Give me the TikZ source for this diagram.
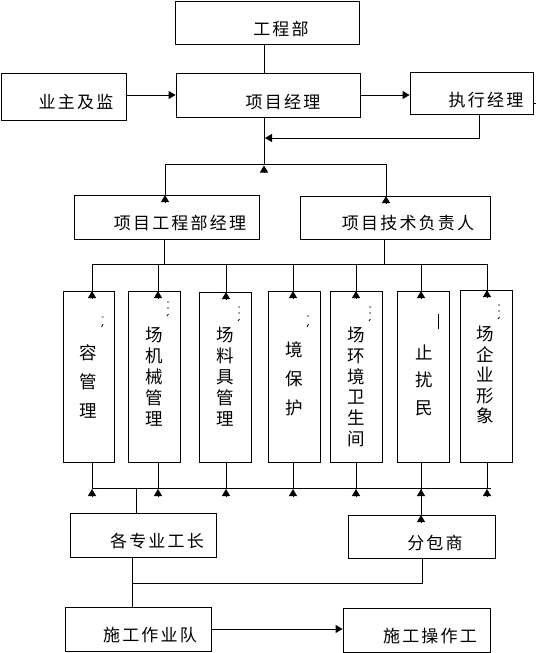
\documentclass[tikz,border=0pt]{standalone}
\usepackage{fontspec}
\setmainfont{Noto Sans CJK SC}
\usetikzlibrary{arrows.meta}
\def\cjs#1{\cjsi#1\relax}
\def\cjsi#1{\ifx\relax#1\else\kern1.1pt#1\kern1.1pt\expandafter\cjsi\fi}
\newcommand\mkbox[5]{\node[box, minimum width={(#4-#2)*1pt}, minimum height={(#5-#3)*1pt}] (#1) at ({(#2+#4)/2},{(#3+#5)/2}) {};}
\tikzset{
  box/.style={draw, line width=0.9pt, inner sep=0pt},
  txt/.style={inner sep=0pt, font=\fontsize{17}{19}\selectfont},
  vtxt/.style={inner sep=0pt, align=center, font=\fontsize{17.5}{#1}\selectfont},
  conn/.style={line width=0.9pt},
  arr/.style={line width=0.9pt, -{Triangle[width=8pt,length=7pt]}},
  tri/.style={line width=0.9pt, -{Triangle[width=8pt,length=7pt]}},
  frag/.style={line width=0.8pt}
}
\begin{document}
\begin{tikzpicture}[x=1pt,y=-1pt]
\useasboundingbox (0,0) rectangle (536,653);
% boxes
\mkbox{gcb}{175}{1}{359}{44}
\mkbox{yz}{1}{73}{126}{120}
\mkbox{xm}{176}{73}{360}{117}
\mkbox{zx}{410}{72}{533}{114}
\mkbox{pe}{74}{195}{259}{239}
\mkbox{pt}{300}{196}{490}{239}
\mkbox{c1}{63}{291}{114}{462}
\mkbox{c2}{128}{291}{180}{462}
\mkbox{c3}{199}{292}{251}{462}
\mkbox{c4}{268}{291}{320}{462}
\mkbox{c5}{330}{291}{382}{462}
\mkbox{c6}{397}{291}{449}{462}
\mkbox{c7}{460}{290}{512}{462}
\mkbox{gz}{70}{513}{216}{557}
\mkbox{fb}{348}{515}{495}{558}
\mkbox{sd}{65}{607}{211}{651}
\mkbox{sc}{343}{608}{490}{652}
% texts
\node[txt] (gcbT) at (281,29) {\cjs{工程部}};
\node[txt] (yzT) at (76,102) {\cjs{业主及监}};
\node[txt] (xmT) at (283,102) {\cjs{项目经理}};
\node[txt] (zxT) at (486,100) {\cjs{执行经理}};
\node[txt] (peT) at (180,223) {\cjs{项目工程部经理}};
\node[txt] (ptT) at (408,223) {\cjs{项目技术负责人}};
\node[txt] (gzT) at (157,541) {\cjs{各专业工长}};
\node[txt] (fbT) at (435,543) {\cjs{分包商}};
\node[txt] (sdT) at (150,635) {\cjs{施工作业队}};
\node[txt] (scT) at (430,636) {\cjs{施工操作工}};
\node[vtxt=29] (c1T) at (88,381) {容\\管\\理};
\node[vtxt=21] (c2T) at (154,377) {场\\机\\械\\管\\理};
\node[vtxt=21] (c3T) at (225,377) {场\\料\\具\\管\\理};
\node[vtxt=29] (c4T) at (294,379) {境\\保\\护};
\node[vtxt=20.8] (c5T) at (356,387) {场\\环\\境\\卫\\生\\间};
\node[vtxt=27.5] (c6T) at (424,380) {止\\扰\\民};
\node[vtxt=20.5] (c7T) at (485,375) {场\\企\\业\\形\\象};
% fragments of clipped glyphs
\draw[frag] (101.5,317) -- (103.5,317) (103,324) -- (101.5,327);
\foreach \fx/\fy in {168/302, 239/307, 370/307, 499/305}{
  \draw[frag] (\fx-1,\fy) -- (\fx+1,\fy) (\fx-1,\fy+6) -- (\fx+1,\fy+6) (\fx+0.5,\fy+12) -- (\fx-1,\fy+14);
}
\draw[frag] (307,316) -- (309,316) (308.5,324) -- (307,327);
\draw[frag] (438,314) -- (438,329);
% coordinates
\coordinate (j0) at (264,164);
\coordinate (j0L) at (165,164);
\coordinate (j0R) at (386,164);
\coordinate (m138) at (265,138);
\coordinate (zxd) at (479,138);
\coordinate (stub) at (536,103);
\coordinate (b1L) at (164,264);
\coordinate (b1R) at (384,264);
\coordinate (u0) at (136,488);
\coordinate (uE) at (491,488);
\coordinate (k1) at (132,583);
\coordinate (k2) at (422,583);
% top connectors
\draw[conn] (gcb.south -| j0) -- (xm.north -| j0);
\draw[arr] (yz.east |- xm.west) -- (xm.west);
\draw[arr] (xm.east) -- (xm.east -| zx.west);
\draw[conn] (stub -| zx.east) -- (stub);
\draw[arr] (zx.south -| zxd) -- (zxd) -- (m138);
\draw[conn] (xm.south -| j0) -- (j0);
\draw[tri] ([yshift=-9pt]j0) -- ([yshift=-1.5pt]j0);
\draw[conn] (j0L) -- (j0R);
\draw[conn] (j0L) -- (j0L |- pe.north);
\draw[conn] (j0R) -- (j0R |- pt.north);
\path (j0L |- pe.north) coordinate (peN) (j0R |- pt.north) coordinate (ptN);
\draw[tri] ([yshift=-8pt]peN) -- ([yshift=-0.5pt]peN);
\draw[tri] ([yshift=-8pt]ptN) -- ([yshift=-0.5pt]ptN);
\draw[conn] (pe.south -| b1L) -- (b1L);
\draw[conn] (pt.south -| b1R) -- (b1R);
% column buses
\foreach \i/\cx in {1/92,2/158,3/226,4/293,5/356,6/421,7/487}{
  \coordinate (t\i) at (\cx,264);
  \coordinate (u\i) at (\cx,488);
}
\draw[conn] (t1) -- (t7);
\draw[conn] (u1) -- (uE);
\foreach \i in {1,...,7}{
  \path (c\i.north -| t\i) coordinate (n\i) (c\i.south -| t\i) coordinate (s\i);
  \draw[conn] (t\i) -- (n\i);
  \draw[tri] ([yshift=-8pt]n\i) -- ([yshift=-0.5pt]n\i);
  \draw[conn] (s\i) -- (u\i);
  \draw[tri] ([yshift=-9pt]u\i) -- ([yshift=-1pt]u\i);
}
% lower connectors
\draw[conn] (gz.north -| u0) -- (u0);
\draw[conn] (u6) -- (fb.north -| u6);
\path (fb.north -| u6) coordinate (fbN);
\draw[tri] ([yshift=-8pt]fbN) -- ([yshift=-0.5pt]fbN);
\draw[conn] (gz.south -| k1) -- (sd.north -| k1);
\draw[conn] (k1) -- (k2) -- (fb.south -| k2);
\draw[arr] (sd.east) -- (sd.east -| sc.west);
\end{tikzpicture}
\end{document}
